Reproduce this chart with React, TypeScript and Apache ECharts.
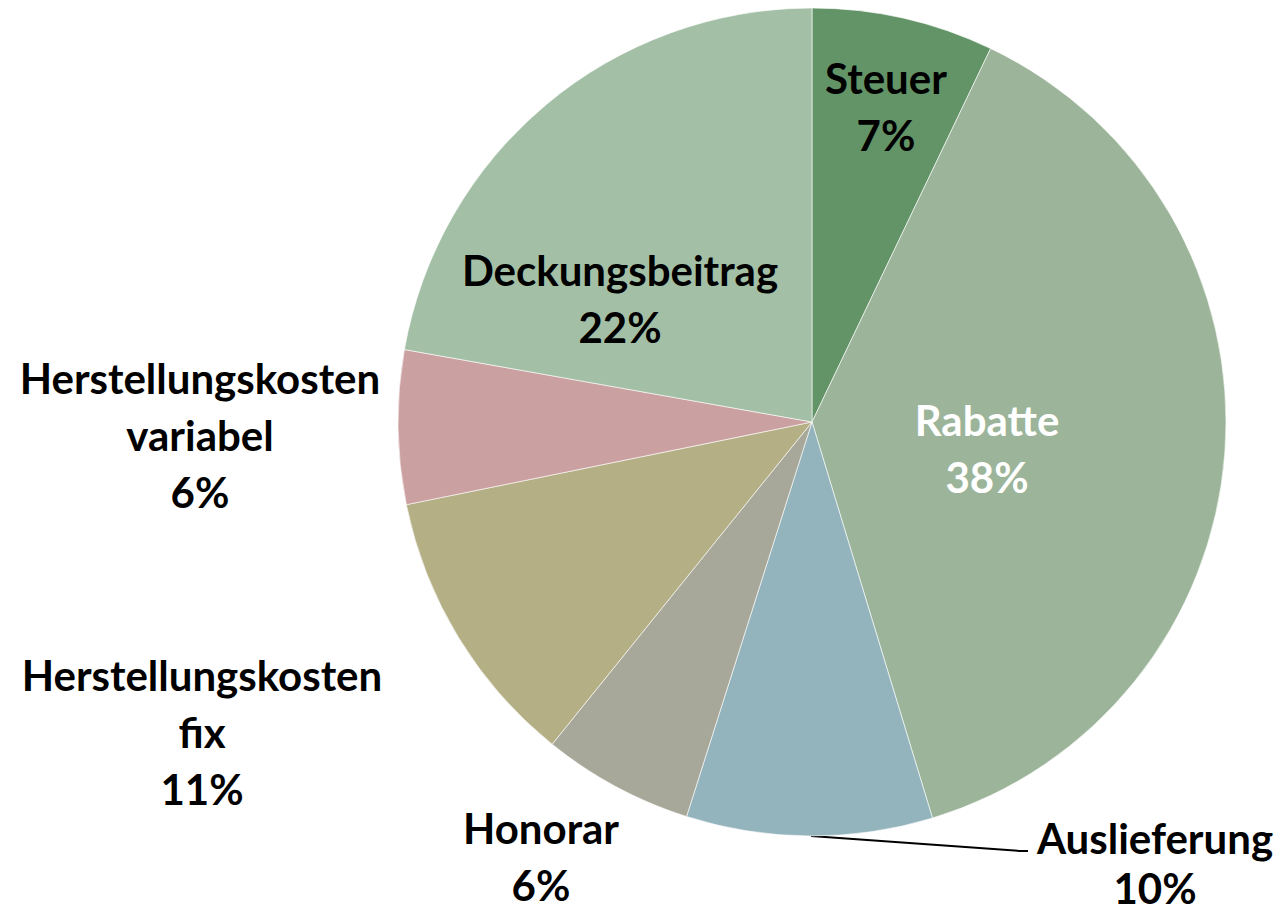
import React, { useEffect, useRef } from "react";
import * as echarts from "echarts";

const categories = [
  "Steuer",
  "Rabatte",
  "Auslieferung",
  "Honorar",
  "Herstellungskosten fix",
  "Herstellungskosten variabel",
  "Deckungsbeitrag",
];
const values = [7.1, 38.2, 9.6, 5.9, 11.0, 6.0, 22.2];
const colors = ["#639467", "#9CB59A", "#94B4BD", "#A8A89A", "#B4AF85", "#CBA0A1", "#A3BFA6"];
const textColors = ["#000", "#fff", "#000", "#000", "#000", "#000", "#000"];
const insideLabel = [true, true, false, false, false, false, true];

// label anchor positions (center of text block)
const labelPos: [number, number][] = [
  [886, 106],
  [987, 448],
  [1155, 863],
  [541, 856],
  [202, 732],
  [200, 435],
  [620, 298],
];

export default function App() {
  const ref = useRef<HTMLDivElement>(null);
  useEffect(() => {
    if (!ref.current) return;
    const chart = echarts.init(ref.current, undefined, { renderer: "svg" });
    chart.setOption({
      animation: false,
      backgroundColor: "#ffffff",
      series: [
        {
          type: "pie",
          center: [812, 422],
          radius: 414,
          startAngle: 90,
          clockwise: true,
          avoidLabelOverlap: false,
          itemStyle: { borderColor: "#ffffff", borderWidth: 0.6 },
          label: {
            show: true,
            position: "outside",
            fontFamily: "Lato, 'Open Sans', sans-serif",
            fontWeight: "bold",
            fontSize: 42,
            lineHeight: 57,
            width: 420,
            overflow: "none",
            align: "center",
            formatter: (p: any) =>
              p.name.replace(" ", "\n") + "\n" + Math.round(p.percent) + "%",
          },
          labelLine: { show: false },
          labelLayout: (p: any) => {
            const i = p.dataIndex;
            const res: any = {
              x: labelPos[i][0],
              y: labelPos[i][1],
              align: "center",
              verticalAlign: "middle",
              hideOverlap: false,
            };
            if (i === 2) {
              res.labelLinePoints = [
                [811, 836],
                [1020, 851],
                [1028, 851],
              ];
            }
            return res;
          },
          data: categories.map((c, i) => ({
            name: c,
            value: values[i],
            itemStyle: { color: colors[i] },
            label: {
              color: textColors[i],
              position: insideLabel[i] ? "inside" : "outside",
              ...(i === 2 ? { lineHeight: 50 } : {}),
            },
            labelLine:
              i === 2
                ? { show: true, lineStyle: { color: "#000", width: 2 } }
                : { show: false },
          })),
        },
      ],
    });
    return () => chart.dispose();
  }, []);
  return (
    <div
      ref={ref}
      style={{ position: "fixed", left: 0, top: 0, width: 1284, height: 914 }}
    />
  );
}
